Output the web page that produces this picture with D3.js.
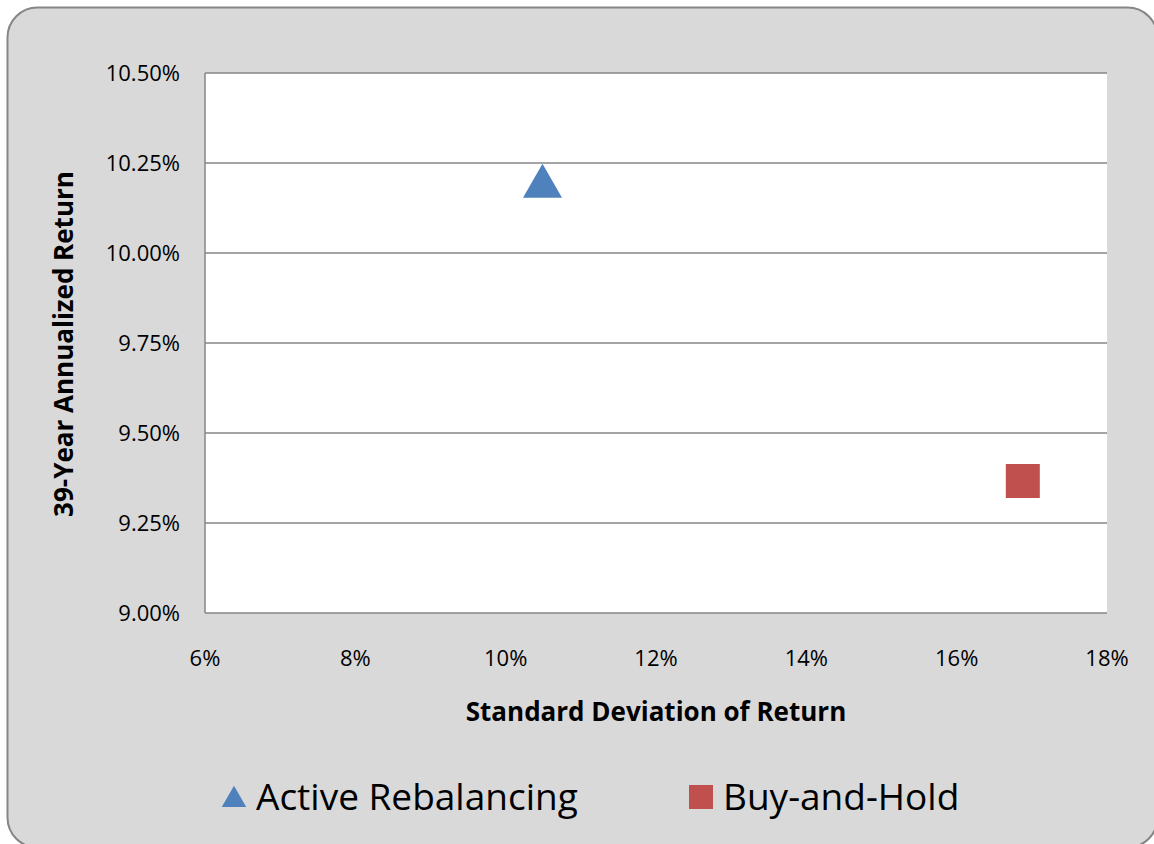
<!DOCTYPE html>
<html>
<head>
<meta charset="utf-8">
<script src="https://cdn.jsdelivr.net/npm/d3@7"></script>
<style>
  body { margin: 0; background: #fff; }
  text { font-family: "Open Sans", "Liberation Sans", sans-serif; fill: #000; }
</style>
</head>
<body>
<div id="chart"></div>
<script>
const seriesNames = ["Active Rebalancing", "Buy-and-Hold"];
const stdDev = [10.49, 16.88];
const annualReturn = [10.185, 9.367];
const xTicks = [6, 8, 10, 12, 14, 16, 18];
const yTicks = [9.00, 9.25, 9.50, 9.75, 10.00, 10.25, 10.50];

const W = 1154, H = 844;
const plot = {left: 205, top: 73, right: 1107, bottom: 613};
const colors = ["#4f81bd", "#c0504d"];

const svg = d3.select("#chart").append("svg")
    .attr("width", W).attr("height", H);

svg.append("rect")
    .attr("x", 7.5).attr("y", 7.5)
    .attr("width", 1150).attr("height", 840)
    .attr("rx", 30).attr("ry", 30)
    .attr("fill", "#d9d9d9")
    .attr("stroke", "#868686").attr("stroke-width", 2);

const x = d3.scaleLinear().domain([6, 18]).range([plot.left, plot.right]);
const y = d3.scaleLinear().domain([9, 10.5]).range([plot.bottom, plot.top]);

svg.append("rect")
    .attr("x", plot.left).attr("y", plot.top)
    .attr("width", plot.right - plot.left).attr("height", plot.bottom - plot.top)
    .attr("fill", "#fff");

// horizontal gridlines
svg.append("g")
  .selectAll("line")
  .data(yTicks)
  .join("line")
    .attr("x1", plot.left).attr("x2", plot.right)
    .attr("y1", d => y(d)).attr("y2", d => y(d))
    .attr("stroke", "#868686").attr("stroke-width", 1.5);

// left axis line
svg.append("line")
    .attr("x1", plot.left).attr("x2", plot.left)
    .attr("y1", plot.top).attr("y2", plot.bottom)
    .attr("stroke", "#868686").attr("stroke-width", 1.5);

// y tick labels
svg.append("g")
  .selectAll("text")
  .data(yTicks)
  .join("text")
    .attr("x", 180)
    .attr("y", d => y(d))
    .attr("dy", "0.35em")
    .attr("text-anchor", "end")
    .attr("font-size", 22)
    .text(d => d.toFixed(2) + "%");

// x tick labels
svg.append("g")
  .selectAll("text")
  .data(xTicks)
  .join("text")
    .attr("x", d => x(d))
    .attr("y", 666)
    .attr("text-anchor", "middle")
    .attr("font-size", 22)
    .text(d => d + "%");

svg.append("text")
    .attr("x", 656).attr("y", 721)
    .attr("text-anchor", "middle")
    .attr("font-size", 26).attr("font-weight", "bold")
    .text("Standard Deviation of Return");

svg.append("text")
    .attr("transform", "translate(73,344) rotate(-90)")
    .attr("text-anchor", "middle")
    .attr("font-size", 26).attr("font-weight", "bold")
    .text("39-Year Annualized Return");

const symbols = [d3.symbolTriangle, d3.symbolSquare];
const sizes = [660, 1156];

// points
svg.append("g")
  .selectAll("path")
  .data(seriesNames)
  .join("path")
    .attr("transform", (d, i) => `translate(${x(stdDev[i])},${y(annualReturn[i])})`)
    .attr("d", (d, i) => d3.symbol(symbols[i], sizes[i])())
    .attr("fill", (d, i) => colors[i]);

// legend
const legendX = [234, 701];
const leg = svg.append("g");
leg.selectAll("path")
  .data(seriesNames)
  .join("path")
    .attr("transform", (d, i) => `translate(${legendX[i]},${i === 0 ? 800 : 797})`)
    .attr("d", (d, i) => d3.symbol(symbols[i], i === 0 ? 260 : 576)())
    .attr("fill", (d, i) => colors[i]);
leg.selectAll("text")
  .data(seriesNames)
  .join("text")
    .attr("x", (d, i) => legendX[i] + 22)
    .attr("y", 797)
    .attr("dy", "0.35em")
    .attr("font-size", 37)
    .text(d => d);
</script>
</body>
</html>
